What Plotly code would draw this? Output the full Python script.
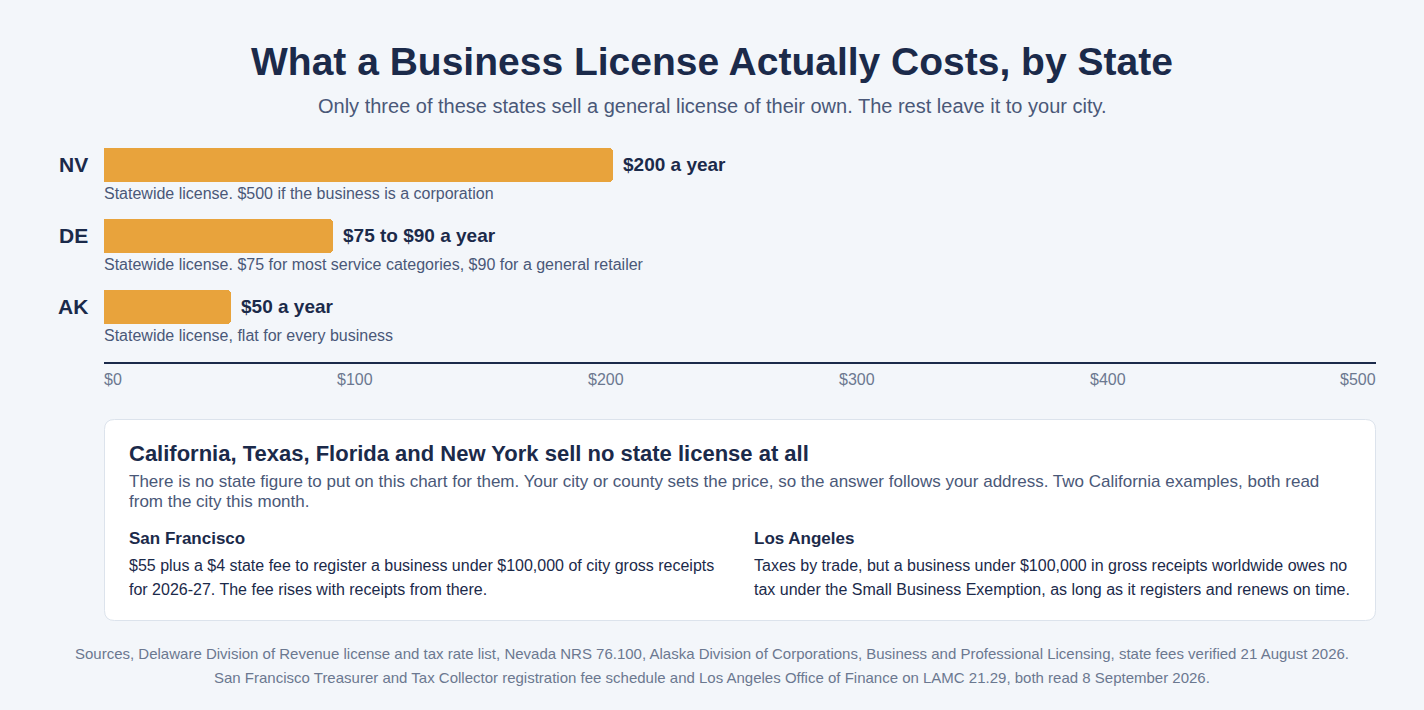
import plotly.graph_objects as go

W, H = 1424, 710

# ---- data ----
states = ["NV", "DE", "AK"]
values = [200, 90, 50]
value_labels = ["$200 a year", "$75 to $90 a year", "$50 a year"]
notes = [
    "Statewide license. $500 if the business is a corporation",
    "Statewide license. $75 for most service categories, $90 for a general retailer",
    "Statewide license, flat for every business",
]
tick_vals = [0, 100, 200, 300, 400, 500]
tick_labels = ["$0", "$100", "$200", "$300", "$400", "$500"]

title = "What a Business License Actually Costs, by State"
subtitle = "Only three of these states sell a general license of their own. The rest leave it to your city."
box_title = "California, Texas, Florida and New York sell no state license at all"
box_intro = [
    "There is no state figure to put on this chart for them. Your city or county sets the price, so the answer follows your address. Two California examples, both read",
    "from the city this month.",
]
city_names = ["San Francisco", "Los Angeles"]
city_texts = [
    ["$55 plus a $4 state fee to register a business under $100,000 of city gross receipts",
     "for 2026-27. The fee rises with receipts from there."],
    ["Taxes by trade, but a business under $100,000 in gross receipts worldwide owes no",
     "tax under the Small Business Exemption, as long as it registers and renews on time."],
]
footer = [
    "Sources, Delaware Division of Revenue license and tax rate list, Nevada NRS 76.100, Alaska Division of Corporations, Business and Professional Licensing, state fees verified 21 August 2026.",
    "San Francisco Treasurer and Tax Collector registration fee schedule and Los Angeles Office of Finance on LAMC 21.29, both read 8 September 2026.",
]

# ---- style ----
FONT = "Liberation Sans, Arial, sans-serif"
NAVY = "#1b2a4a"
GRAY = "#4a5878"
LIGHT = "#6b7890"
BAR = "#e8a33c"
BG = "#f3f6fa"
PAD = 2  # annotation inner padding compensation


def X(px):
    return px / W


def Y(py):
    return 1 - py / H


fig = go.Figure()
ypos = list(range(len(states)))
fig.add_trace(go.Bar(
    x=values, y=ypos, orientation="h", width=0.479,
    marker=dict(color=BAR, cornerradius=4, line=dict(width=0)),
    hoverinfo="skip", showlegend=False,
))

ann = []
ann.append(dict(text=f"<b>{title}</b>", x=0.5, y=Y(62), xref="paper", yref="paper",
                xanchor="center", yanchor="middle", showarrow=False,
                font=dict(family=FONT, size=39, color=NAVY)))
ann.append(dict(text=subtitle, x=0.5, y=Y(106), xref="paper", yref="paper",
                xanchor="center", yanchor="middle", showarrow=False,
                font=dict(family=FONT, size=20, color=GRAY)))

for i, (s, v, vl, n) in enumerate(zip(states, values, value_labels, notes)):
    ann.append(dict(text=f"<b>{s}</b>", x=X(88), y=i, xref="paper", yref="y", xshift=PAD,
                    xanchor="right", yanchor="middle", showarrow=False,
                    font=dict(family=FONT, size=21, color=NAVY)))
    ann.append(dict(text=f"<b>{vl}</b>", x=v, y=i, xref="x", yref="y", xshift=10 - PAD,
                    xanchor="left", yanchor="middle", showarrow=False,
                    font=dict(family=FONT, size=19, color=NAVY)))
    ann.append(dict(text=n, x=0, y=i, xref="x", yref="y", yshift=-29, xshift=-PAD,
                    xanchor="left", yanchor="middle", showarrow=False,
                    font=dict(family=FONT, size=16, color=GRAY)))

nt = len(tick_vals)
for i, (tv, tl) in enumerate(zip(tick_vals, tick_labels)):
    if i == 0:
        xa, sh = "left", -PAD
    elif i == nt - 1:
        xa, sh = "right", PAD
    else:
        xa, sh = "center", -3.5 * i
    ann.append(dict(text=tl, x=tv, y=Y(380), xref="x", yref="paper", xshift=sh,
                    xanchor=xa, yanchor="middle", showarrow=False,
                    font=dict(family=FONT, size=16, color=LIGHT)))

# box contents
ann.append(dict(text=f"<b>{box_title}</b>", x=X(129), y=Y(453), xref="paper", yref="paper",
                xshift=-PAD, xanchor="left", yanchor="middle", showarrow=False,
                font=dict(family=FONT, size=22, color=NAVY)))
for j, line in enumerate(box_intro):
    ann.append(dict(text=line, x=X(129), y=Y(481 + 21 * j), xref="paper", yref="paper",
                    xshift=-PAD, xanchor="left", yanchor="middle", showarrow=False,
                    font=dict(family=FONT, size=17, color=GRAY)))
col_x = [129, 754]
for c, (nm, lines) in enumerate(zip(city_names, city_texts)):
    ann.append(dict(text=f"<b>{nm}</b>", x=X(col_x[c]), y=Y(538), xref="paper", yref="paper",
                    xshift=-PAD, xanchor="left", yanchor="middle", showarrow=False,
                    font=dict(family=FONT, size=17, color=NAVY)))
    for j, line in enumerate(lines):
        ann.append(dict(text=line, x=X(col_x[c]), y=Y(565 + 24 * j), xref="paper", yref="paper",
                        xshift=-PAD, xanchor="left", yanchor="middle", showarrow=False,
                        font=dict(family=FONT, size=16, color=NAVY)))

for j, line in enumerate(footer):
    ann.append(dict(text=line, x=0.5, y=Y(653 + 24 * j), xref="paper", yref="paper",
                    xanchor="center", yanchor="middle", showarrow=False,
                    font=dict(family=FONT, size=15, color=LIGHT)))


def rounded_rect(x0, y0, x1, y1, r):
    rx, ry = r / W, r / H
    a0, b0, a1, b1 = X(x0), Y(y1), X(x1), Y(y0)  # b0 bottom, b1 top in paper
    return (f"M {a0+rx},{b0} L {a1-rx},{b0} Q {a1},{b0} {a1},{b0+ry} "
            f"L {a1},{b1-ry} Q {a1},{b1} {a1-rx},{b1} L {a0+rx},{b1} "
            f"Q {a0},{b1} {a0},{b1-ry} L {a0},{b0+ry} Q {a0},{b0} {a0+rx},{b0} Z")


shapes = [dict(type="path", xref="paper", yref="paper",
               path=rounded_rect(104.5, 419.5, 1375.5, 620.5, 10),
               fillcolor="#ffffff", line=dict(color="#dce3ec", width=1), layer="below")]

fig.update_layout(
    width=W, height=H,
    margin=dict(l=0, r=0, t=0, b=0),
    paper_bgcolor=BG, plot_bgcolor="rgba(0,0,0,0)",
    xaxis=dict(domain=[X(104), X(1376)], range=[0, 500], showgrid=False, zeroline=False,
               showticklabels=False, ticks="", showline=True, linecolor=NAVY, linewidth=2,
               fixedrange=True),
    yaxis=dict(domain=[Y(362), Y(140)], range=[2.775, -0.352], showgrid=False, zeroline=False,
               showticklabels=False, ticks="", showline=False, fixedrange=True),
    annotations=ann, shapes=shapes, bargap=0,
    font=dict(family=FONT),
)

fig.write_html("out.html", config={"displayModeBar": False},
               post_script="document.body.style.margin='0';document.body.style.background='" + BG + "';")
